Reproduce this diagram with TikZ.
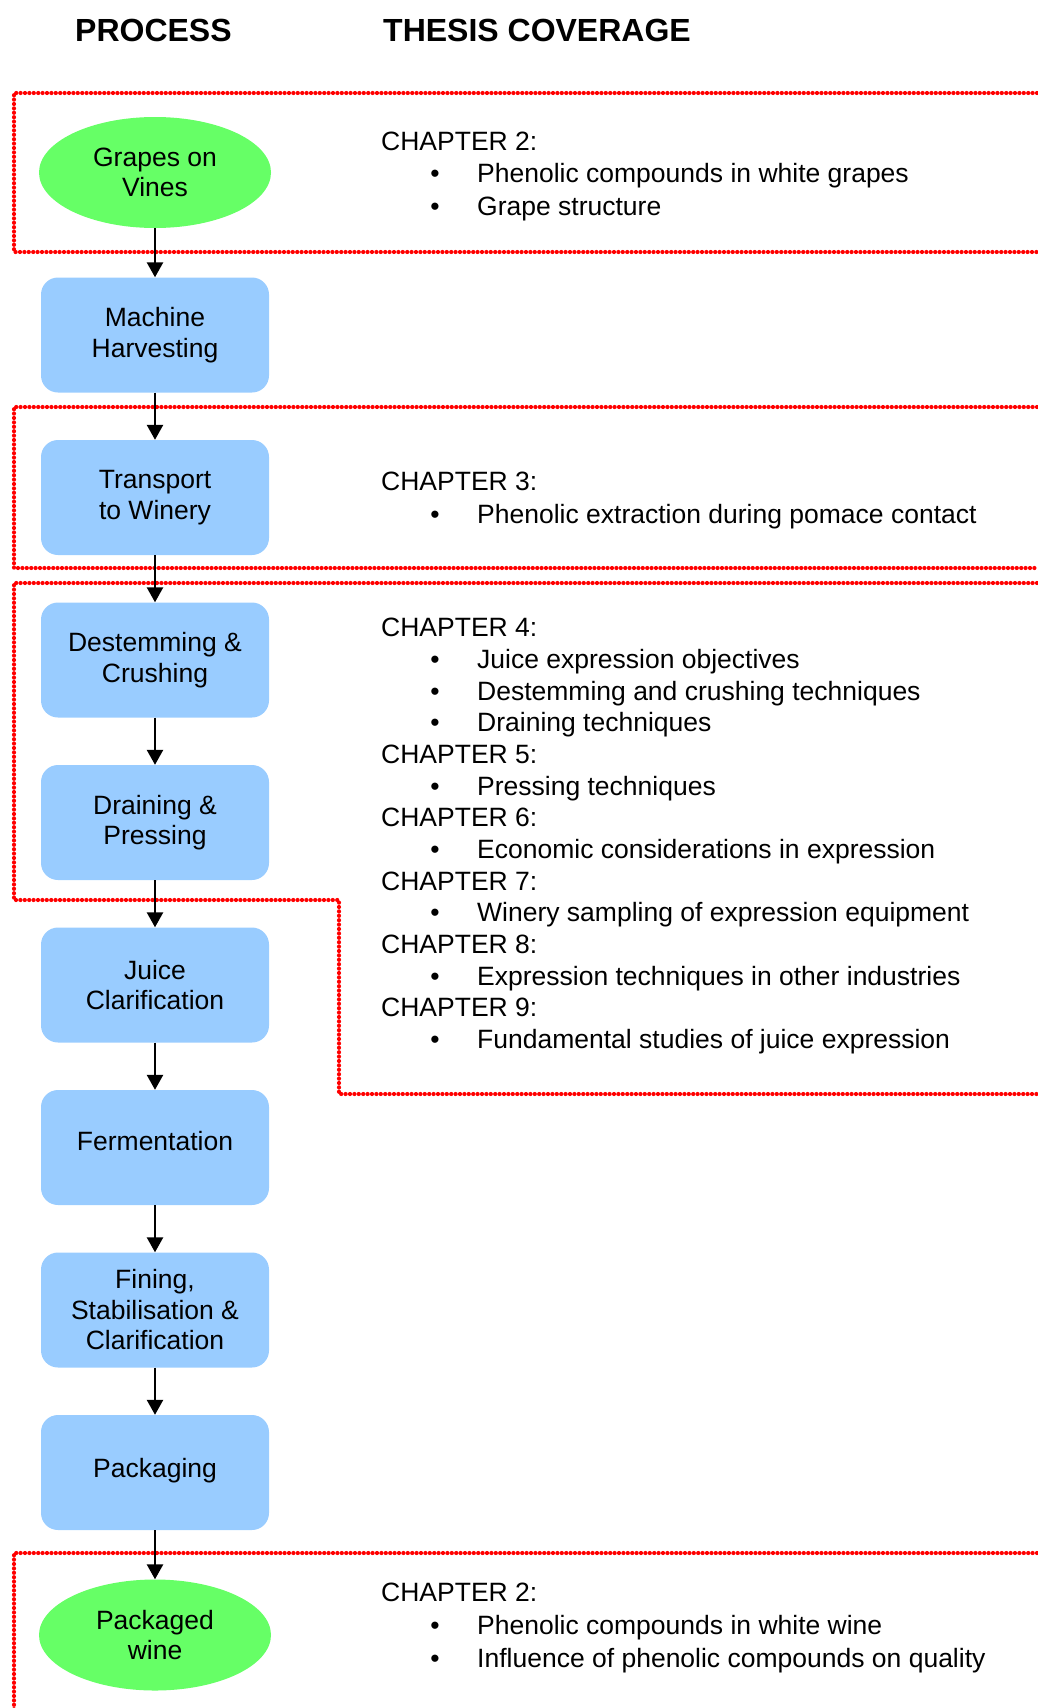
\documentclass[tikz,border=0pt]{standalone}
\usepackage{fontspec}
\setmainfont{Liberation Sans}
\usetikzlibrary{shapes.geometric,arrows.meta,positioning}

\definecolor{procblue}{RGB}{153,204,255}
\definecolor{grapegreen}{RGB}{102,255,102}
\definecolor{chapred}{RGB}{255,0,0}

\newcommand{\bodyfont}{\fontsize{26.5}{30.5}\selectfont}
\newcommand{\headfont}{\fontsize{32}{36}\selectfont\bfseries}

\begin{document}
\begin{tikzpicture}[x=1pt,y=-1pt,node distance=162.5pt,
  process/.style={rectangle,rounded corners=17pt,fill=procblue,minimum width=228pt,minimum height=115pt,align=center,font=\bodyfont},
  grape/.style={ellipse,fill=grapegreen,minimum width=232pt,minimum height=111pt,inner sep=0,align=center,font=\bodyfont},
  flow/.style={-{Triangle[width=16pt,length=15pt]},line width=2.6pt},
  chap/.style={anchor=base west,inner sep=0,font=\bodyfont},
  bull/.style={anchor=base,inner sep=0,font=\bodyfont},
  head/.style={anchor=base west,inner sep=0,font=\headfont},
  cover/.style={chapred,line width=4.2pt,line cap=round,dash pattern=on 0pt off 4.4pt}]

\useasboundingbox (0,0) rectangle (1037,1708);

% Headers
\node[head] (hproc) at (75,41) {PROCESS};
\node[head] (hthesis) at (383,41) {THESIS COVERAGE};

% Coverage frames
\draw[cover] (1037,93) -- (14,93) -- (14,252) -- (1037,252);
\draw[cover] (1037,407) -- (14,407) -- (14,568) -- (1037,568);
\draw[cover] (1037,583) -- (14,583) -- (14,900) -- (339,900) -- (339,1094) -- (1037,1094);
\draw[cover] (1037,1553) -- (14,1553) -- (14,1712);

% Nodes
\node[grape] (vines) at (155,172.5) {Grapes on\\Vines};
\node[process,below of = vines] (harvest) {Machine\\Harvesting};
\node[process,below of = harvest] (transport) {Transport\\to Winery};
\node[process,below of = transport] (destem) {Destemming \&\\Crushing};
\node[process,below of = destem] (press) {Draining \&\\Pressing};
\node[process,below of = press] (clarif) {Juice\\Clarification};
\node[process,below of = clarif,text depth=13pt] (ferment) {Fermentation};
\node[process,below of = ferment] (fining) {Fining,\\Stabilisation \&\\Clarification};
\node[process,below of = fining,text depth=10pt] (pack) {Packaging};
\node[grape,below of = pack] (wine) {Packaged\\wine};

%arcs
\path (vines) edge[flow] (harvest);
\path (harvest) edge[flow] (transport);
\path (transport) edge[flow] (destem);
\path (destem) edge[flow] (press);
\path (press) edge[flow] (clarif);
\path (clarif) edge[flow] (ferment);
\path (ferment) edge[flow] (fining);
\path (fining) edge[flow] (pack);
\path (pack) edge[flow] (wine);

% Chapter 2 (grapes)
\node[chap] (c2a) at (381,150) {CHAPTER 2:};
\node[bull] (b2a1) at (435,182.5) {•};
\node[chap] (t2a1) at (477,182.5) {Phenolic compounds in white grapes};
\node[bull] (b2a2) at (435,215) {•};
\node[chap] (t2a2) at (477,215) {Grape structure};

% Chapter 3
\node[chap] (c3) at (381,490) {CHAPTER 3:};
\node[bull] (b31) at (435,523) {•};
\node[chap] (t31) at (477,523) {Phenolic extraction during pomace contact};

% Chapters 4 - 9
\node[chap] (c4) at (381,636.7) {CHAPTER 4:};
\node[bull] (b41) at (435,668.4) {•};
\node[chap] (t41) at (477,668.4) {Juice expression objectives};
\node[bull] (b42) at (435,700) {•};
\node[chap] (t42) at (477,700) {Destemming and crushing techniques};
\node[bull] (b43) at (435,731.7) {•};
\node[chap] (t43) at (477,731.7) {Draining techniques};
\node[chap] (c5) at (381,763.3) {CHAPTER 5:};
\node[bull] (b51) at (435,795) {•};
\node[chap] (t51) at (477,795) {Pressing techniques};
\node[chap] (c6) at (381,826.7) {CHAPTER 6:};
\node[bull] (b61) at (435,858.3) {•};
\node[chap] (t61) at (477,858.3) {Economic considerations in expression};
\node[chap] (c7) at (381,890) {CHAPTER 7:};
\node[bull] (b71) at (435,921.6) {•};
\node[chap] (t71) at (477,921.6) {Winery sampling of expression equipment};
\node[chap] (c8) at (381,953.3) {CHAPTER 8:};
\node[bull] (b81) at (435,985) {•};
\node[chap] (t81) at (477,985) {Expression techniques in other industries};
\node[chap] (c9) at (381,1016.6) {CHAPTER 9:};
\node[bull] (b91) at (435,1048.3) {•};
\node[chap] (t91) at (477,1048.3) {Fundamental studies of juice expression};

% Chapter 2 (wine)
\node[chap] (c2b) at (381,1601.5) {CHAPTER 2:};
\node[bull] (b2b1) at (435,1634) {•};
\node[chap] (t2b1) at (477,1634) {Phenolic compounds in white wine};
\node[bull] (b2b2) at (435,1667) {•};
\node[chap] (t2b2) at (477,1667) {Influence of phenolic compounds on quality};

\end{tikzpicture}
\end{document}
